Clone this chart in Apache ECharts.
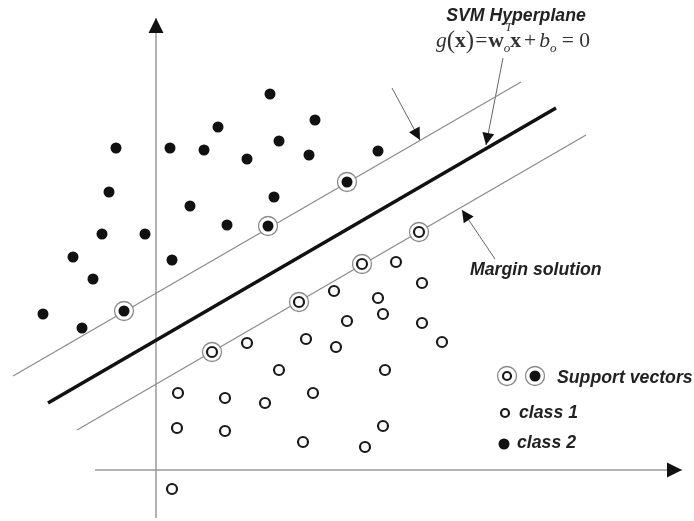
<!DOCTYPE html>
<html><head><meta charset="utf-8">
<script src="https://cdn.jsdelivr.net/npm/echarts@6/dist/echarts.min.js"></script>
<style>html,body{margin:0;padding:0;background:#fff}#c{width:694px;height:521px}</style>
</head><body><div id="c"></div>
<script>
// data coordinates: origin at the crossing of the two drawn axes
const class1 = [[22,77],[69,72],[109,67],[157,77],[123,100],[91,127],[150,131],[180,123],[191,149],[178,179],[222,172],[227,156],[240,208],[266,187],[266,147],[286,128],[229,100],[21,42],[69,39],[147,28],[209,23],[227,44],[16,-19]];
const class2 = [[-113,156],[-74,142],[-83,213],[-63,191],[-54,236],[-11,236],[-47,278],[-40,322],[14,322],[16,210],[34,264],[48,320],[62,343],[71,245],[91,311],[114,376],[123,329],[118,273],[153,315],[159,350],[222,319]];
const supportVectors1 = [[56,118],[143,168],[206,206],[263,238]];
const supportVectors2 = [[-32,159],[112,244],[191,288]];
const hyperplane = [[-108,67],[400,362]];
const marginUpper = [[-143,94],[365,388]];
const marginLower = [[-79,40],[430,335]];
const pointerArrows = [[[236,382],[264,330]],[[347,412],[330,325]],[[339,211],[306,260]]];
const axisArrows = [[[-61,0],[526,0]],[[0,-48],[0,452]]];

function headSegment(seg, len){
  const [a,b] = seg; const dx=b[0]-a[0], dy=b[1]-a[1]; const d=Math.hypot(dx,dy);
  const ux=dx/d, uy=dy/d;
  const end=[b[0]-ux*len/2, b[1]-uy*len/2];
  const start=[end[0]-ux*0.5, end[1]-uy*0.5];
  return {coords:[start,end]};
}

const chart = echarts.init(document.getElementById('c'), null, {renderer:'canvas'});
const sans = "'Liberation Sans', Arial, sans-serif";
const serif = "'Liberation Serif', 'Times New Roman', serif";
const labelStyle = {fontFamily:sans, fontWeight:'bold', fontStyle:'italic', fontSize:17.7, fill:'#222'};
const hiddenAxis = {axisLine:{show:false}, axisTick:{show:false}, axisLabel:{show:false}, splitLine:{show:false}};
const fm = {fontFamily:serif, fontSize:21.5, lineHeight:28, fill:'#333'};

chart.setOption({
  animation:false,
  backgroundColor:'#fff',
  grid:{left:0, right:0, top:0, bottom:0},
  xAxis:Object.assign({type:'value', min:-156, max:538}, hiddenAxis),
  yAxis:Object.assign({type:'value', min:-51, max:470}, hiddenAxis),
  series:[
    {type:'lines', coordinateSystem:'cartesian2d', silent:true, z:1,
      data:axisArrows.map(s=>({coords:s})), lineStyle:{color:'#9a9a9a', width:1.5, opacity:1}},
    {type:'lines', coordinateSystem:'cartesian2d', silent:true, z:3,
      data:axisArrows.map(s=>headSegment(s,15)), symbol:['none','triangle'], symbolSize:[12,15], lineStyle:{color:'#111', width:1, opacity:1}},
    {type:'line', data:hyperplane, showSymbol:false, silent:true, lineStyle:{color:'#111', width:3.5}, z:2},
    {type:'line', data:marginUpper, showSymbol:false, silent:true, lineStyle:{color:'#8a8a8a', width:1.2}, z:2},
    {type:'line', data:marginLower, showSymbol:false, silent:true, lineStyle:{color:'#8a8a8a', width:1.2}, z:2},
    {type:'lines', coordinateSystem:'cartesian2d', silent:true, z:2,
      data:pointerArrows.map(s=>({coords:s})), lineStyle:{color:'#666', width:1, opacity:1}},
    {type:'lines', coordinateSystem:'cartesian2d', silent:true, z:3,
      data:pointerArrows.map(s=>headSegment(s,12)), symbol:['none','triangle'], symbolSize:[8,12], lineStyle:{color:'#111', width:1, opacity:1}},
    {type:'scatter', data:supportVectors1.concat(supportVectors2), symbolSize:19, silent:true, z:4,
      itemStyle:{color:'#fff', borderColor:'#8a8a8a', borderWidth:1.3, opacity:1}},
    {type:'scatter', data:class1.concat(supportVectors1), symbolSize:10, silent:true, z:5,
      itemStyle:{color:'#fff', borderColor:'#1a1a1a', borderWidth:2.2, opacity:1}},
    {type:'scatter', data:class2.concat(supportVectors2), symbolSize:11, silent:true, z:5,
      itemStyle:{color:'#111', opacity:1}}
  ],
  graphic:[
    {type:'text', x:516, y:16, style:Object.assign({text:'SVM Hyperplane', align:'center', verticalAlign:'middle'}, labelStyle)},
    {type:'text', x:436, y:27, style:{
      text:'{i|g}{p|(}{b|x}{p|)}{eq|=}{b|w}{s|o}{b|x}{pl|+}{i|b}{s|o}{n| = 0}',
      rich:{
        i:Object.assign({fontStyle:'italic'}, fm),
        n:Object.assign({}, fm),
        eq:Object.assign({padding:[0,1,0,1]}, fm),
        pl:Object.assign({padding:[0,3,0,3]}, fm),
        p:Object.assign({}, fm, {fontSize:25}),
        b:Object.assign({fontWeight:'bold'}, fm),
        s:{fontFamily:serif, fontStyle:'italic', fontSize:13, lineHeight:12, verticalAlign:'bottom', fill:'#333'}
      }}},
    {type:'text', x:505, y:21, style:{text:'T', fontFamily:serif, fontStyle:'italic', fontSize:13, fill:'#333'}},
    {type:'text', x:470, y:270, style:Object.assign({text:'Margin solution', verticalAlign:'middle'}, labelStyle)},
    {type:'circle', shape:{cx:507, cy:376, r:9.5}, style:{fill:'#fff', stroke:'#8a8a8a', lineWidth:1.3}},
    {type:'circle', shape:{cx:507, cy:376, r:4}, style:{fill:'#fff', stroke:'#1a1a1a', lineWidth:2.2}},
    {type:'circle', shape:{cx:535, cy:376, r:9.5}, style:{fill:'#fff', stroke:'#8a8a8a', lineWidth:1.3}},
    {type:'circle', shape:{cx:535, cy:376, r:5.5}, style:{fill:'#111'}},
    {type:'text', x:557, y:378, style:Object.assign({text:'Support vectors', verticalAlign:'middle'}, labelStyle)},
    {type:'circle', shape:{cx:505, cy:413, r:4}, style:{fill:'#fff', stroke:'#1a1a1a', lineWidth:2.2}},
    {type:'text', x:519, y:413, style:Object.assign({text:'class 1', verticalAlign:'middle'}, labelStyle)},
    {type:'circle', shape:{cx:504, cy:444, r:5.5}, style:{fill:'#111'}},
    {type:'text', x:517, y:443, style:Object.assign({text:'class 2', verticalAlign:'middle'}, labelStyle)}
  ]
});
</script></body></html>
